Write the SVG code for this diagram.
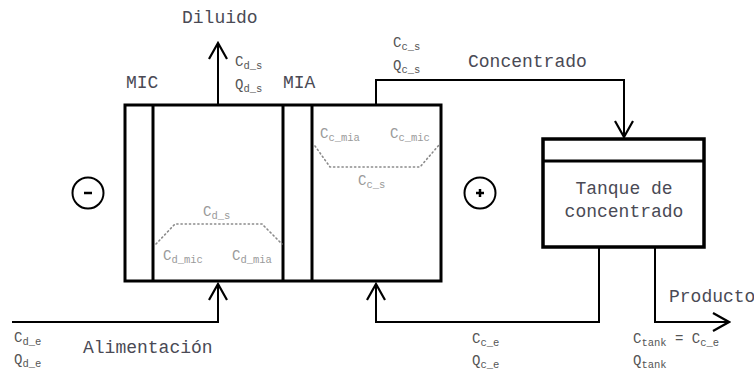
<svg xmlns="http://www.w3.org/2000/svg" width="754" height="371" viewBox="0 0 754 371">
<defs>
<marker id="vhead" viewBox="0 0 20 20" refX="18" refY="10" markerWidth="20" markerHeight="20" markerUnits="userSpaceOnUse" orient="auto">
<path d="M2,1 L18,10 L2,19" fill="none" stroke="#000" stroke-width="2.2"/>
</marker>
</defs>
<style>
.lbl{font-family:"Liberation Mono","Courier New",monospace;font-size:18px;fill:#4a4a55}
.v{font-family:"Liberation Mono","Courier New",monospace;font-size:14px;fill:#555}
.vi{font-family:"Liberation Mono","Courier New",monospace;font-size:14px;fill:#9a9a9a}
.sub{font-size:10.5px}
.wall{fill:none;stroke:#000;stroke-width:3}
.wire{fill:none;stroke:#000;stroke-width:2}
.dots{fill:none;stroke:#8a8a8a;stroke-width:1.6;stroke-dasharray:1.2 3;stroke-linecap:round}
.sign{fill:none;stroke:#000;stroke-width:2}
</style>
<rect width="754" height="371" fill="#fff"/>

<g id="cell">
<rect class="wall" x="125" y="105" width="316" height="176"/>
<line class="wall" x1="153" y1="105" x2="153" y2="281"/>
<line class="wall" x1="283" y1="105" x2="283" y2="281" stroke-width="3.5"/>
<line class="wall" x1="312" y1="105" x2="312" y2="281"/>
<text class="lbl" x="126" y="88">MIC</text>
<text class="lbl" x="283" y="88">MIA</text>
</g>

<g id="diluate">
<path class="dots" d="M156,244 L175,224 L262,224 L282,244"/>
<text class="vi" x="203" y="216">C<tspan class="sub" dy="3">d_s</tspan></text>
<text class="vi" x="163" y="260">C<tspan class="sub" dy="3">d_mic</tspan></text>
<text class="vi" x="232" y="260">C<tspan class="sub" dy="3">d_mia</tspan></text>
</g>

<g id="concentrate">
<path class="dots" d="M315,146 L330,167 L420,167 L439,145"/>
<text class="vi" x="320" y="138">C<tspan class="sub" dy="3">c_mia</tspan></text>
<text class="vi" x="390" y="138">C<tspan class="sub" dy="3">c_mic</tspan></text>
<text class="vi" x="358" y="185">C<tspan class="sub" dy="3">c_s</tspan></text>
</g>

<g id="cathode">
<circle class="sign" cx="88" cy="193" r="15.5"/>
<line x1="84" y1="193" x2="92" y2="193" stroke="#000" stroke-width="2.5"/>
</g>

<g id="anode">
<circle class="sign" cx="480" cy="193" r="15.5"/>
<line x1="476" y1="193" x2="484" y2="193" stroke="#000" stroke-width="2.5"/>
<line x1="480" y1="189" x2="480" y2="197" stroke="#000" stroke-width="2.5"/>
</g>

<g id="tank">
<rect x="543" y="139" width="161" height="108" fill="none" stroke="#000" stroke-width="3.5"/>
<line x1="543" y1="161" x2="704" y2="161" stroke="#000" stroke-width="3"/>
<text class="lbl" x="624" y="194" text-anchor="middle">Tanque de</text>
<text class="lbl" x="624" y="217" text-anchor="middle">concentrado</text>
</g>

<g id="connectors">
<path class="wire" d="M218,105 L218,43" marker-end="url(#vhead)"/>
<path class="wire" d="M376,105 L376,80 L624,80 L624,137" marker-end="url(#vhead)"/>
<path class="wire" d="M12,322 L218,322 L218,284" marker-end="url(#vhead)"/>
<path class="wire" d="M599,247 L599,322 L376,322 L376,284" marker-end="url(#vhead)"/>
<path class="wire" d="M655,247 L655,322 L729,322" stroke-width="3" marker-end="url(#vhead)"/>
</g>

<g id="labels">
<text class="lbl" x="182" y="23">Diluido</text>
<text class="v" x="235" y="66">C<tspan class="sub" dy="3">d_s</tspan></text>
<text class="v" x="235" y="89">Q<tspan class="sub" dy="3">d_s</tspan></text>
<text class="v" x="393" y="47">C<tspan class="sub" dy="3">c_s</tspan></text>
<text class="v" x="393" y="70">Q<tspan class="sub" dy="3">c_s</tspan></text>
<text class="lbl" x="468" y="67">Concentrado</text>
<text class="v" x="14" y="342">C<tspan class="sub" dy="3">d_e</tspan></text>
<text class="v" x="14" y="364">Q<tspan class="sub" dy="3">d_e</tspan></text>
<text class="lbl" x="83" y="353">Alimentación</text>
<text class="v" x="472" y="343">C<tspan class="sub" dy="3">c_e</tspan></text>
<text class="v" x="472" y="365">Q<tspan class="sub" dy="3">c_e</tspan></text>
<text class="lbl" x="669" y="302">Producto</text>
<text class="v" x="633" y="343">C<tspan class="sub" dy="3">tank</tspan><tspan dy="-3"> = C</tspan><tspan class="sub" dy="3">c_e</tspan></text>
<text class="v" x="633" y="365">Q<tspan class="sub" dy="3">tank</tspan></text>
</g>
</svg>
